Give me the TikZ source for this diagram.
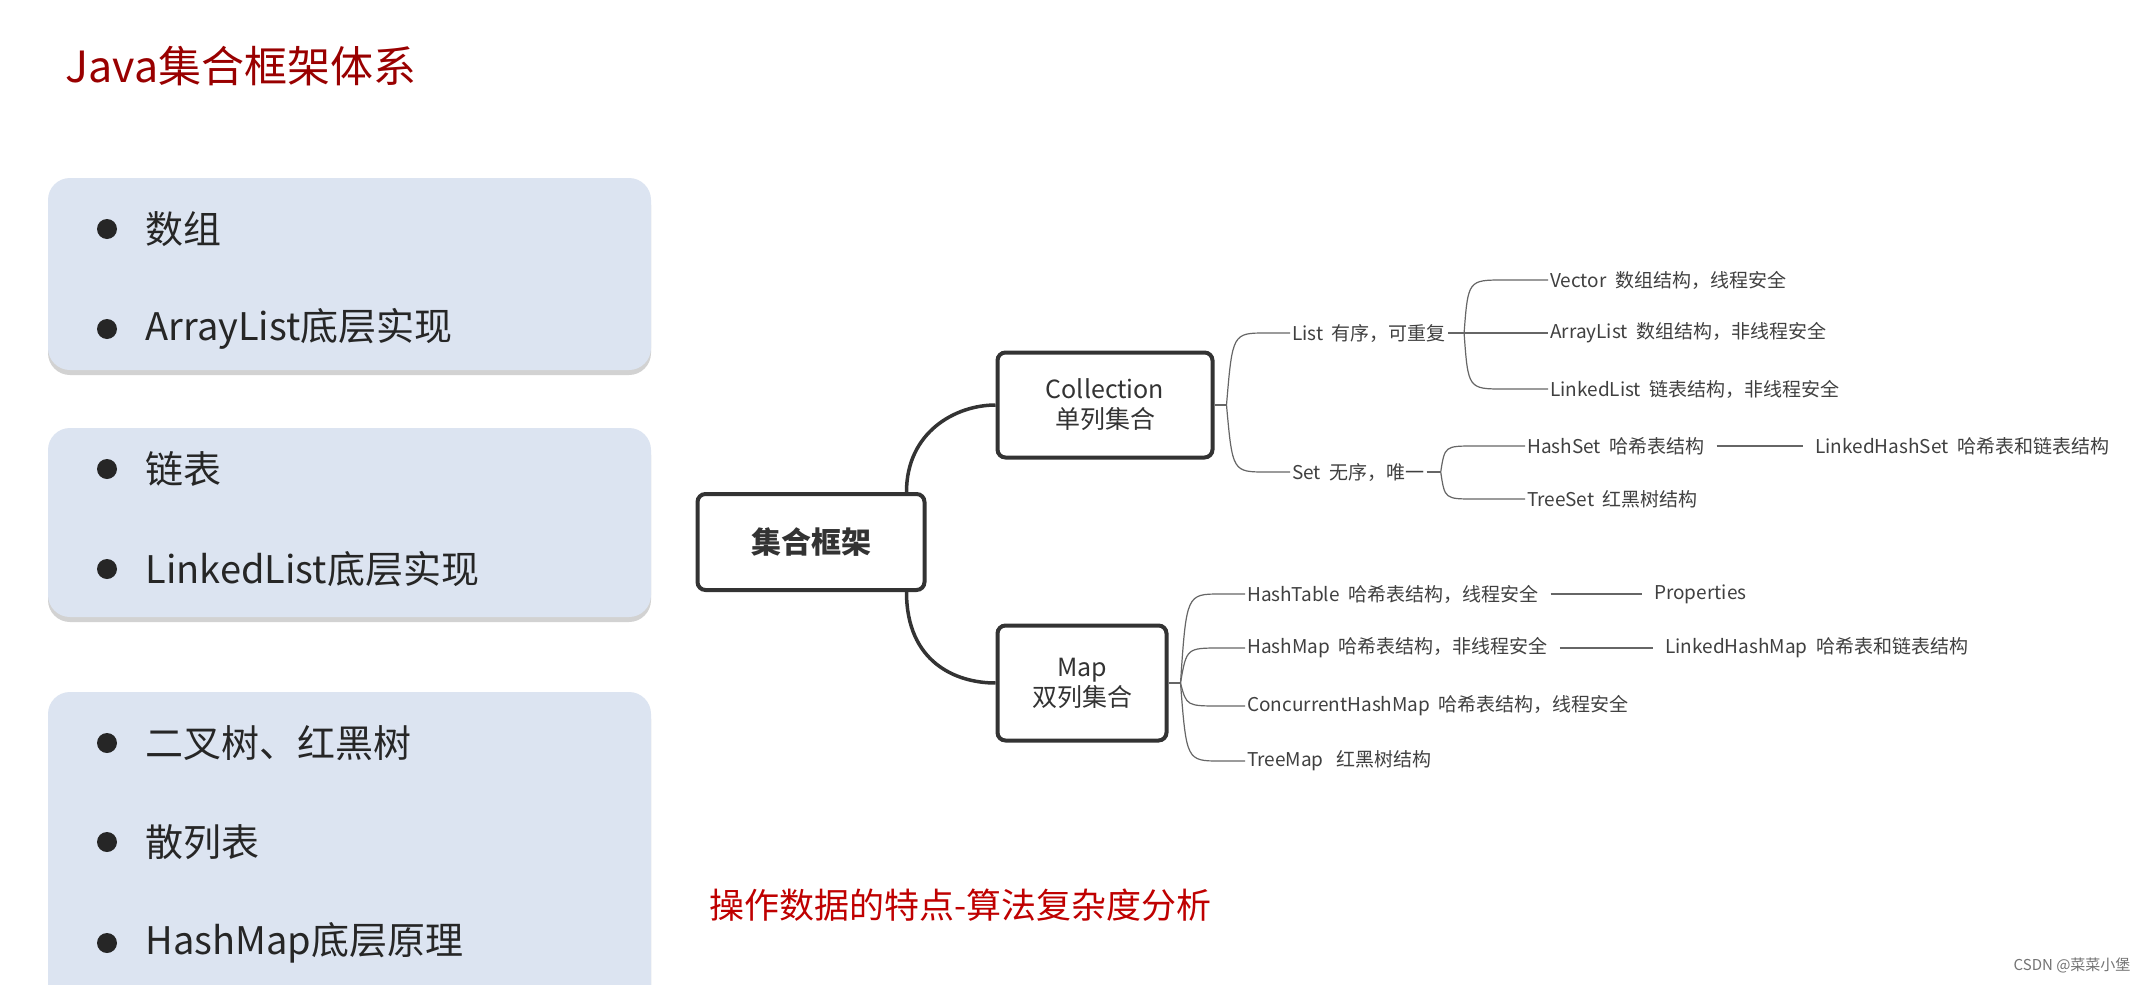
\documentclass[tikz,border=0pt]{standalone}
\usepackage{fontspec}
\setmainfont{Noto Sans CJK SC}
\usetikzlibrary{positioning,shadows}
\definecolor{panelblue}{HTML}{DCE4F1}

\begin{document}
\begin{tikzpicture}[x=1pt,y=-1pt]
    \tikzset{panel/.style={rounded corners=22pt, fill=panelblue, draw=none,
        drop shadow={shadow xshift=0pt, shadow yshift=-5pt, opacity=.35}},
      item/.style={anchor=west, font=\fontsize{38}{40}\selectfont, text=black!85},
      dot/.style={circle, fill=black!85, inner sep=0pt, minimum size=20pt},
      topic/.style={draw=black!80, line width=4pt, rounded corners=8pt, fill=white,
        align=center, text=black!80, font=\fontsize{25}{30}\selectfont},
      leaf/.style={anchor=west, inner sep=2pt, text=black!75, font=\fontsize{19}{21}\selectfont},
      big/.style={draw=black!80, line width=3.5pt},
      thin/.style={draw=black!60, line width=1.2pt}}
    \useasboundingbox (0,0) rectangle (2150,985);
    \fill[white] (0,0) rectangle (2150,985);

    \node[anchor=west, text=red!60!black, font=\fontsize{43}{46}\selectfont] (title) at (62,66) {Java集合框架体系};

    % left panels
    \path[panel] (48,178) rectangle (651,370);
    \path[panel] (48,428) rectangle (651,617);
    \path[panel] (48,692) rectangle (651,1010);
    \foreach \y/\t in {229/数组, 329/ArrayList底层实现, 469/链表, 569/LinkedList底层实现,
        743/二叉树、红黑树, 842/散列表, 943/HashMap底层原理} {
      \node[dot] at (107,\y) {};
      \node[item] at (142,\y) {\t};
    }

    % mind map
    \node[topic, minimum width=227pt, minimum height=96pt, font=\bfseries\fontsize{30}{32}\selectfont] (root) at (811,542) {集合框架};
    \node[topic, minimum width=215pt, minimum height=105pt] (coll) at (1105,405) {Collection\\单列集合};
    \node[topic, minimum width=169pt, minimum height=115pt] (map) at (1082,683) {Map\\双列集合};

    \node[leaf] (list) at (1290,333) {List\ \ 有序，可重复};
    \node[leaf] (set) at (1290,472) {Set\ \ 无序，唯一};
    \node[leaf] (vec) at (1548,280) {Vector\ \ 数组结构，线程安全};
    \node[leaf] (alist) at (1548,333) {ArrayList\ \ 数组结构，非线程安全};
    \node[leaf] (llist) at (1548,389) {LinkedList\ \ 链表结构，非线程安全};
    \node[leaf] (hset) at (1525,446) {HashSet\ \ 哈希表结构};
    \node[leaf] (lhset) at (1813,446) {LinkedHashSet\ \ 哈希表和链表结构};
    \node[leaf] (tset) at (1525,499) {TreeSet\ \ 红黑树结构};

    \node[leaf] (htab) at (1245,594) {HashTable\ \ 哈希表结构，线程安全};
    \node[leaf] (prop) at (1652,594) {Properties};
    \node[leaf] (hmap) at (1245,648) {HashMap\ \ 哈希表结构，非线程安全};
    \node[leaf] (lhmap) at (1663,648) {LinkedHashMap\ \ 哈希表和链表结构};
    \node[leaf] (chmap) at (1245,706) {ConcurrentHashMap\ \ 哈希表结构，线程安全};
    \node[leaf] (tmap) at (1245,761) {TreeMap\ \ \ 红黑树结构};

    \draw[big] ([xshift=-20pt]root.north east) .. controls +(0,-60) and +(-40,0) .. (coll.west);
    \draw[big] ([xshift=-20pt]root.south east) .. controls +(0,70) and +(-40,0) .. (map.west);

    \coordinate (cb) at ([xshift=12pt]coll.east);
    \draw[thin] (coll.east) -- (cb);
    \foreach \n in {list,set}
      \draw[thin] (cb) .. controls ([xshift=6pt]cb |- \n.west) .. ([xshift=40pt]cb |- \n.west) -- (\n.west);
    \coordinate (lb) at ([xshift=16pt]list.east);
    \draw[thin] (list.east) -- (lb);
    \foreach \n in {vec,alist,llist}
      \draw[thin] (lb) .. controls ([xshift=4pt]lb |- \n.west) .. ([xshift=40pt]lb |- \n.west) -- (\n.west);
    \coordinate (sb) at ([xshift=14pt]set.east);
    \draw[thin] (set.east) -- (sb);
    \foreach \n in {hset,tset}
      \draw[thin] (sb) .. controls ([xshift=4pt]sb |- \n.west) .. ([xshift=34pt]sb |- \n.west) -- (\n.west);
    \draw[thin] ([xshift=10pt]hset.east) -- ([xshift=-10pt]lhset.west);

    \coordinate (mb) at ([xshift=12pt]map.east);
    \draw[thin] (map.east) -- (mb);
    \foreach \n in {htab,hmap,chmap,tmap}
      \draw[thin] (mb) .. controls ([xshift=6pt]mb |- \n.west) .. ([xshift=40pt]mb |- \n.west) -- (\n.west);
    \draw[thin] ([xshift=10pt]htab.east) -- ([xshift=-10pt]prop.west);
    \draw[thin] ([xshift=10pt]hmap.east) -- ([xshift=-10pt]lhmap.west);

    \node[anchor=west, text=red!75!black, font=\fontsize{35}{38}\selectfont] (note) at (706,905) {操作数据的特点-算法复杂度分析};
    \node[anchor=east, text=black!55, font=\fontsize{15}{16}\selectfont] (mark) at (2134,965) {CSDN @菜菜小堡};
\end{tikzpicture}
\end{document}
